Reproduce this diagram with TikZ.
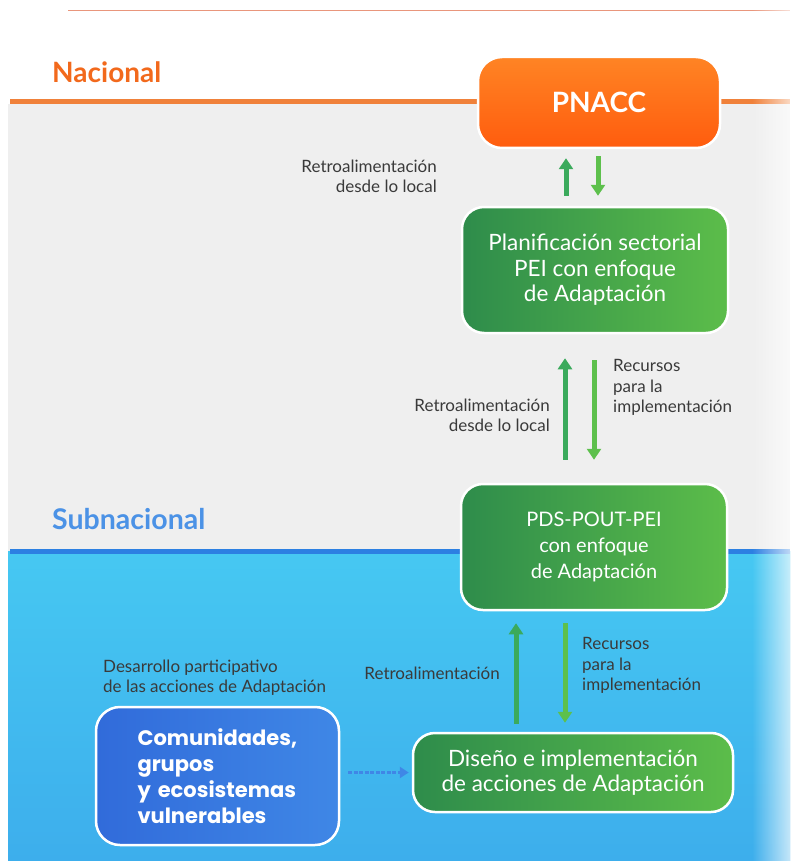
\documentclass[tikz,border=0pt]{standalone}
\usepackage{fontspec}
\setmainfont{Lato}
\newfontfamily\popfont{Poppins}
\usetikzlibrary{arrows.meta,fadings}
\definecolor{grayBG}{HTML}{EFEFEF}
\definecolor{cyanA}{HTML}{46C8F2}
\definecolor{cyanB}{HTML}{3DAEEC}
\definecolor{orLine}{HTML}{F0813A}
\definecolor{orText}{HTML}{F2691C}
\definecolor{orA}{HTML}{FF8424}
\definecolor{orB}{HTML}{FF5C0E}
\definecolor{blLine}{HTML}{2C80E2}
\definecolor{blText}{HTML}{4B92E6}
\definecolor{grA}{HTML}{2E8C4B}
\definecolor{grB}{HTML}{5CBD4A}
\definecolor{arrA}{HTML}{3BAA5C}
\definecolor{arrB}{HTML}{5DC04C}
\definecolor{comA}{HTML}{316BDA}
\definecolor{comB}{HTML}{3F87E6}
\definecolor{lblText}{HTML}{3A3A3A}
\definecolor{salmon}{HTML}{E9967C}
\tikzfading[name=faderight, left color=transparent!100, right color=transparent!30]
\tikzset{
  box/.style={draw=white, line width=2.5pt, inner sep=0pt, text=white, align=center},
  greenbox/.style={box, left color=grA, right color=grB, rounded corners=22pt,
     font=\fontsize{22.5}{25.5}\selectfont},
  lbl/.style={text=lblText, inner sep=0pt, font=\fontsize{17}{20.3}\selectfont},
  uparr/.style={draw=arrA, line width=5pt, -{Triangle[width=14pt,length=11pt]}},
  dnarr/.style={draw=arrB, line width=5pt, -{Triangle[width=14pt,length=11pt]}},
  dasharr/.style={draw=comB, line width=3.5pt, dash pattern=on 4pt off 1.5pt,
     -{Triangle[width=11pt,length=9pt]}},
}
\begin{document}
\begin{tikzpicture}[x=1pt,y=-1pt]
\useasboundingbox (0,0) rectangle (790,861);
\fill[white] (0,0) rectangle (790,861);
% backgrounds
\fill[grayBG] (8,104) rectangle (790,551);
\shade[top color=cyanA, bottom color=cyanB] (8,551) rectangle (790,861);
\draw[salmon, line width=1pt] (68,11) -- (790,11);
\draw[orLine, line width=5pt] (10,102) -- (790,102);
\draw[blLine, line width=5pt] (10,551) -- (790,551);
% region titles
\node[anchor=west, text=orText, inner sep=0pt, font=\fontsize{28}{32}\selectfont\bfseries] (nac) at (52,72) {Nacional};
\node[anchor=west, text=blText, inner sep=0pt, font=\fontsize{28.5}{32}\selectfont\bfseries] (sub) at (52,519) {Subnacional};
% boxes
\node[box, top color=orA, bottom color=orB, rounded corners=24pt, minimum width=242pt, minimum height=91pt,
      font=\fontsize{28}{32}\selectfont\bfseries] (pnacc) at (599,102.5) {PNACC};
\node[greenbox, minimum width=266pt, minimum height=126pt] (plan) at (595,270)
  {Planificación sectorial\\PEI con enfoque\\de Adaptación};
\node[greenbox, minimum width=266pt, minimum height=126pt, font=\fontsize{20}{26}\selectfont] (pds) at (594,547)
  {PDS-POUT-PEI\\con enfoque\\de Adaptación};
\node[greenbox, minimum width=320pt, minimum height=79pt] (dis) at (573,772.5)
  {Diseño e implementación\\de acciones de Adaptación};
\node[box, left color=comA, right color=comB, rounded corners=24pt, minimum width=243pt, minimum height=138pt,
      align=left, text width=160pt, font=\popfont\fontsize{21}{26}\selectfont\bfseries] (com) at (217.5,776)
  {Comunidades,\\grupos\\y ecosistemas\\vulnerables};
% arrows
\draw[uparr, shorten <=10pt, shorten >=9pt] ([xshift=-29pt]plan.north) -- ([xshift=-29pt]plan.north |- pnacc.south);
\draw[dnarr, shorten <=7pt, shorten >=10pt] ([xshift=3pt]plan.north |- pnacc.south) -- ([xshift=3pt]plan.north);
\draw[uparr, shorten <=23pt, shorten >=24pt] ([xshift=-29pt]pds.north) -- ([xshift=-29pt]pds.north |- plan.south);
\draw[dnarr, shorten <=26pt, shorten >=23pt] ([xshift=0pt]pds.north |- plan.south) -- ([xshift=0pt]pds.north);
\draw[uparr, shorten <=8pt, shorten >=12pt] ([xshift=-57pt]dis.north) -- ([xshift=-57pt]dis.north |- pds.south);
\draw[dnarr, shorten <=12pt, shorten >=9pt] ([xshift=-8pt]dis.north |- pds.south) -- ([xshift=-8pt]dis.north);
\draw[dasharr, shorten <=8pt, shorten >=3pt] (com.east |- dis.west) -- (dis.west);
% labels
\node[lbl, anchor=east, align=right] (l1) at (437,176.5) {Retroalimentación\\desde lo local};
\node[lbl, anchor=east, align=right] (l2) at (550,415) {Retroalimentación\\desde lo local};
\node[lbl, anchor=west, align=left] (l3) at (613,387.5) {Recursos\\para la\\implementación};
\node[lbl, anchor=east, align=right] (l4) at (500,673) {Retroalimentación};
\node[lbl, anchor=west, align=left] (l5) at (582,665.5) {Recursos\\para la\\implementación};
\node[lbl, anchor=west, align=left] (l6) at (103,677.5) {Desarrollo participativo\\de las acciones de Adaptación};
% right-edge fade
\fill[white, path fading=faderight] (752,0) rectangle (790,861);
\end{tikzpicture}
\end{document}
